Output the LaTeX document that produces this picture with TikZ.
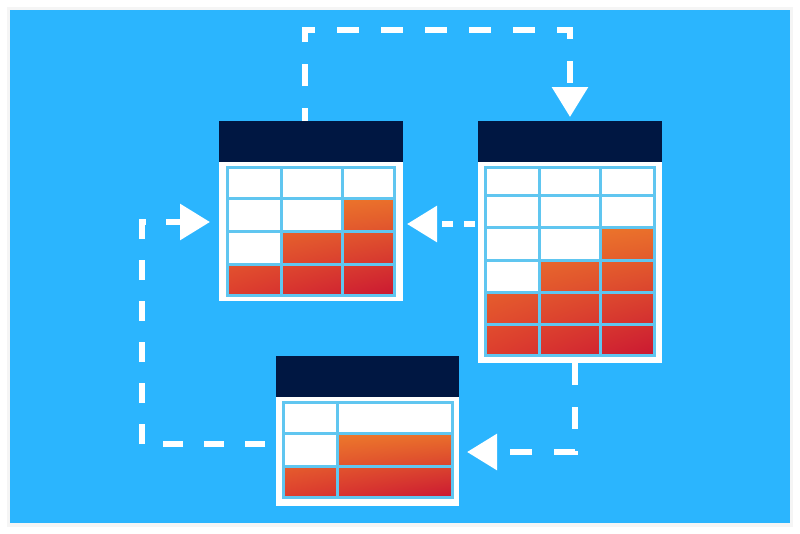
\documentclass[tikz,border=0pt]{standalone}
\usetikzlibrary{arrows.meta,shadings}
\definecolor{bgblue}{RGB}{43,181,254}
\definecolor{navy}{RGB}{0,23,66}
\definecolor{gridblue}{RGB}{96,198,240}
\definecolor{cellUL}{RGB}{238,126,44}
\definecolor{cellUR}{RGB}{234,112,43}
\definecolor{cellLL}{RGB}{221,62,46}
\definecolor{cellLR}{RGB}{203,24,50}
\tikzset{
  frame/.style={draw=none, fill=white, inner sep=0pt, outer sep=0pt},
  header/.style={fill=navy},
  gridline/.style={draw=gridblue, line width=3pt},
  flow/.style={draw=white, line width=6pt, dash pattern=on 22pt off 22pt,
    -{Triangle[length=30pt,width=35pt]}},
  cellshade/.style={upper left=cellUL, upper right=cellUR,
    lower left=cellLL, lower right=cellLR}
}
\begin{document}
\begin{tikzpicture}[x=1pt,y=-1pt]
\useasboundingbox (0,0) rectangle (800,533);
\fill[white] (0,0) rectangle (800,533);
\fill[black!8] (8,8) rectangle (792,526);
\fill[black!4] (7,7) rectangle (793,527);
\fill[bgblue] (10,10) rectangle (790,523);

% ---------- table 1 (top left)
\node[frame, minimum width=184pt, minimum height=180pt] (t1) at (311,211) {};
\fill[header] (219,121) rectangle (403,162);
\begin{scope}
  \clip (342,198) rectangle (394,231)
        (281,231) rectangle (394,264)
        (227,264) rectangle (394,295);
  \shade[cellshade] (227,198) rectangle (394,295);
\end{scope}
\foreach \x in {281,342} \draw[gridline] (\x,167) -- (\x,295);
\foreach \y in {198,231,264} \draw[gridline] (227,\y) -- (394,\y);
\draw[gridline] (227,167) rectangle (394,295);

% ---------- table 2 (right)
\node[frame, minimum width=184pt, minimum height=242pt] (t2) at (570,242) {};
\fill[header] (478,121) rectangle (662,162);
\begin{scope}
  \clip (600,227) rectangle (654,260)
        (539,260) rectangle (654,292)
        (485,292) rectangle (654,355);
  \shade[cellshade] (485,227) rectangle (654,355);
\end{scope}
\foreach \x in {539,600} \draw[gridline] (\x,167) -- (\x,355);
\foreach \y in {195,227,260,292,324} \draw[gridline] (485,\y) -- (654,\y);
\draw[gridline] (485,167) rectangle (654,355);

% ---------- table 3 (bottom)
\node[frame, minimum width=183pt, minimum height=150pt] (t3) at (367.5,431) {};
\fill[header] (276,356) rectangle (459,397);
\begin{scope}
  \clip (337,433) rectangle (452,466)
        (283,466) rectangle (452,497);
  \shade[cellshade] (283,433) rectangle (452,497);
\end{scope}
\draw[gridline] (337,402) -- (337,497);
\foreach \y in {433,466} \draw[gridline] (283,\y) -- (452,\y);
\draw[gridline] (283,402) rectangle (452,497);

% ---------- connectors
\coordinate (a1) at (305,30);
\coordinate (a2) at (0,224);
\coordinate (a3) at (575,452);
\coordinate (a4) at (142,444);
\coordinate (a5) at (0,222);

\draw[flow, dash phase=9pt, shorten >=4pt] (t1.north -| a1) -- (a1) -| (t2.north);
\draw[flow, dash pattern=on 11pt off 11pt, dash phase=19pt, shorten >=4pt]
  (t2.west |- a2) -- (t1.east |- a2);
\draw[flow, shorten >=8pt] (t2.south -| a3) -- (a3) -- (t3.east |- a3);
\draw[flow, dash pattern=on 20.5pt off 20.5pt, dash phase=30pt, shorten >=9pt]
  (t3.west |- a4) -- (a4) |- (t1.west |- a5);
\end{tikzpicture}
\end{document}
